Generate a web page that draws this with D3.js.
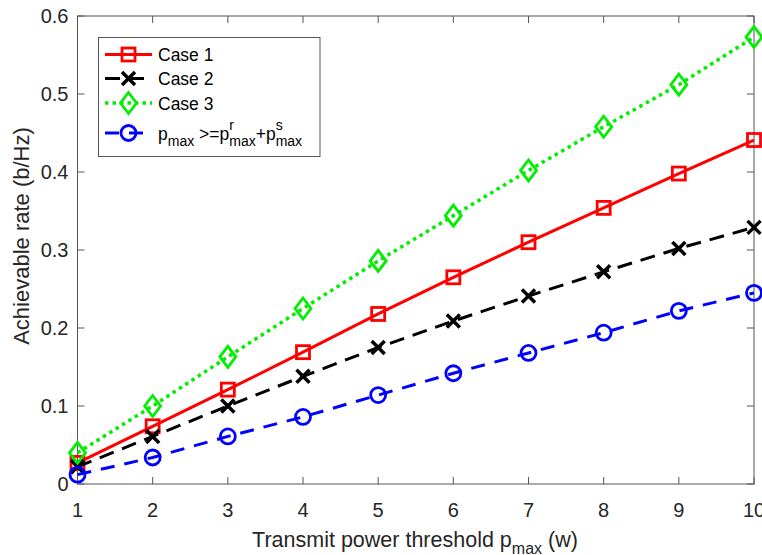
<!DOCTYPE html>
<html>
<head>
<meta charset="utf-8">
<script src="https://cdn.jsdelivr.net/npm/d3@7"></script>
<style>
  body { margin: 0; background: #fff; }
  text { font-family: 'Liberation Sans', Arial, sans-serif; fill: #262626; }
</style>
</head>
<body>
<div id="chart"></div>
<script>
const powers = [1, 2, 3, 4, 5, 6, 7, 8, 9, 10]
const case1 = [0.027, 0.074, 0.121, 0.169, 0.218, 0.265, 0.310, 0.354, 0.398, 0.441]
const case2 = [0.022, 0.061, 0.100, 0.138, 0.175, 0.209, 0.241, 0.272, 0.302, 0.329]
const case3 = [0.040, 0.100, 0.163, 0.225, 0.286, 0.344, 0.402, 0.458, 0.512, 0.573]
const bound = [0.012, 0.034, 0.061, 0.086, 0.114, 0.142, 0.168, 0.194, 0.222, 0.245]
const xTicks = [1, 2, 3, 4, 5, 6, 7, 8, 9, 10]
const yTicks = [0, 0.1, 0.2, 0.3, 0.4, 0.5, 0.6]

const width = 762
const height = 555
const padding = { top: 16, right: 8, bottom: 71, left: 77.5 }
const innerWidth = width - padding.left - padding.right
const innerHeight = height - padding.top - padding.bottom
const axisColor = '#555'

const series = [
    { name: 'Case 1', values: case1, color: '#ff0000', dash: null, marker: 'square' },
    { name: 'Case 2', values: case2, color: '#000000', dash: '15,9', marker: 'cross' },
    { name: 'Case 3', values: case3, color: '#00ee00', dash: '3.5,4', marker: 'diamond' },
    { name: 'bound', values: bound, color: '#0000ff', dash: '14,10', marker: 'circle' }
]

const svg = d3.select('#chart').append('svg')
    .attr('width', width).attr('height', height)

const g = svg.append('g').attr('transform', `translate(${padding.left}, ${padding.top})`)

const x = d3.scaleLinear().domain([1, 10]).range([0, innerWidth])
const y = d3.scaleLinear().domain([0, 0.6]).range([innerHeight, 0])

// box + ticks (inward, on all four sides like matlab)
g.append('rect')
    .attr('width', innerWidth).attr('height', innerHeight)
    .attr('fill', 'none').attr('stroke', axisColor).attr('stroke-width', 1)

const tickLen = 7
const ticks = g.append('g').attr('stroke', axisColor).attr('stroke-width', 1)
xTicks.forEach(t => {
    ticks.append('line').attr('x1', x(t)).attr('x2', x(t)).attr('y1', innerHeight).attr('y2', innerHeight - tickLen)
    ticks.append('line').attr('x1', x(t)).attr('x2', x(t)).attr('y1', 0).attr('y2', tickLen)
})
yTicks.forEach(t => {
    ticks.append('line').attr('x1', 0).attr('x2', tickLen).attr('y1', y(t)).attr('y2', y(t))
    ticks.append('line').attr('x1', innerWidth).attr('x2', innerWidth - tickLen).attr('y1', y(t)).attr('y2', y(t))
})

g.selectAll('.xt').data(xTicks).enter().append('text')
    .text(d => d)
    .attr('x', d => x(d)).attr('y', innerHeight + 33)
    .attr('text-anchor', 'middle').attr('font-size', 20)

g.selectAll('.yt').data(yTicks).enter().append('text')
    .text(d => d === 0 ? '0' : d3.format('.1f')(d))
    .attr('x', -9).attr('y', d => y(d) + 7)
    .attr('text-anchor', 'end').attr('font-size', 20)

// axis labels
const xl = svg.append('text')
    .attr('x', 415).attr('y', 547)
    .attr('text-anchor', 'middle').attr('font-size', 21.5)
xl.append('tspan').text('Transmit power threshold p')
xl.append('tspan').text('max').attr('font-size', 16).attr('dy', 6.5)
xl.append('tspan').text('\u00a0(w)').attr('dy', -6.5)

svg.append('text')
    .text('Achievable rate (b/Hz)')
    .attr('transform', 'translate(29, 236) rotate(-90)')
    .attr('text-anchor', 'middle').attr('font-size', 22)

// markers
function drawMarker (sel, type, color) {
    const s = sel.append('g')
    if (type === 'square') {
        s.append('rect').attr('x', -6.5).attr('y', -6.5).attr('width', 13).attr('height', 13)
    } else if (type === 'cross') {
        s.append('path').attr('d', 'M-6.5,-6.5L6.5,6.5M-6.5,6.5L6.5,-6.5')
    } else if (type === 'diamond') {
        s.append('path').attr('d', 'M0,-10.5L8,0L0,10.5L-8,0Z')
    } else {
        s.append('circle').attr('r', 7.5)
    }
    s.selectAll('*').attr('fill', 'none').attr('stroke', color)
        .attr('stroke-width', type === 'cross' ? 3.5 : 2.8)
    return s
}

const line = d3.line().x((d, i) => x(powers[i])).y(d => y(d))

series.forEach(s => {
    g.append('path')
        .attr('d', line(s.values))
        .attr('fill', 'none')
        .attr('stroke', s.color)
        .attr('stroke-width', s.marker === 'diamond' ? 3.5 : 3)
        .attr('stroke-dasharray', s.dash)
    s.values.forEach((v, i) => {
        drawMarker(g, s.marker, s.color).attr('transform', `translate(${x(powers[i])}, ${y(v)})`)
    })
})

// legend
const legend = svg.append('g')
legend.append('rect')
    .attr('x', 98.5).attr('y', 37.5).attr('width', 221.5).attr('height', 119)
    .attr('fill', '#fff').attr('stroke', axisColor).attr('stroke-width', 1)

const rowY = [54.5, 78.5, 103, 133]
series.forEach((s, i) => {
    const ry = rowY[i]
    legend.append('line')
        .attr('x1', 105).attr('x2', 152).attr('y1', ry).attr('y2', ry)
        .attr('stroke', s.color).attr('stroke-width', s.marker === 'diamond' ? 3.5 : 3)
        .attr('stroke-dasharray', s.dash)
    drawMarker(legend, s.marker, s.color).attr('transform', `translate(128.5, ${ry})`)
    if (i < 3) {
        legend.append('text').text(s.name)
            .attr('x', 158).attr('y', ry + 6.5).attr('font-size', 17.5).style('fill', '#000')
    }
})

// p_max >= p^r_max + p^s_max, pieces placed one after another
const eq = legend.append('g')
const base = rowY[3] + 6.5
let cx = 158
function piece (txt, size, dy) {
    const t = eq.append('text').text(txt).attr('x', cx).attr('y', base + dy)
        .attr('font-size', size).style('fill', '#000')
    return t.node().getComputedTextLength()
}
cx += piece('p', 17.5, 0)
cx += piece('max', 14, 6.5)
cx += piece('\u00a0>=p', 17.5, 0)
let w1 = piece('r', 14, -10)
let w2 = piece('max', 14, 6.5)
cx += Math.max(w1, w2)
cx += piece('+p', 17.5, 0)
w1 = piece('s', 14, -10)
w2 = piece('max', 14, 6.5)
cx += Math.max(w1, w2)
</script>
</body>
</html>
